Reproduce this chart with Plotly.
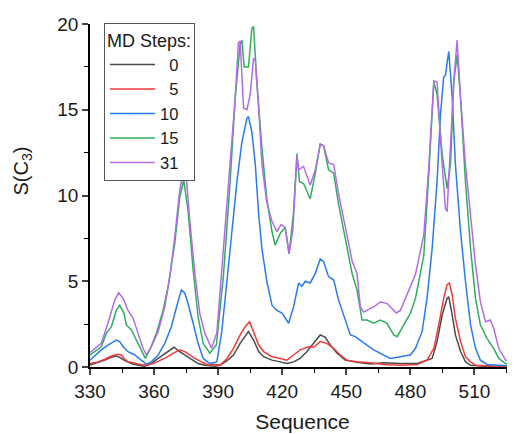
import plotly.graph_objects as go

# ---- data ----
seq_0 = [330, 333.8, 336.9, 340, 342.3, 343.9, 346.3, 349.4, 352.5, 355.6, 358.7, 361.9, 365, 368.1, 369.4,
         371.3, 374.4, 377.5, 380.6, 383.8, 388.4, 391, 394, 397.2, 400.3, 402.7, 404.2, 406.6, 409, 411.3,
         415.2, 419.1, 422.2, 425.3, 428.4, 431.6, 434.7, 437.8, 440.2, 442.5, 445.7, 449.5, 455, 461.3,
         467.5, 475.3, 483.2, 487.8, 490.2, 492.5, 494.9, 497.2, 498, 499.6, 501.1, 503.5, 505.8, 508.2,
         515, 529]
val_0 = [0.12, 0.25, 0.4, 0.56, 0.64, 0.56, 0.37, 0.2, 0.1, 0.05, 0.2, 0.5, 0.76, 1.03, 1.15,
         0.95, 0.7, 0.45, 0.2, 0.1, 0.05, 0.12, 0.35, 0.7, 1.38, 1.8, 2.06, 1.57, 0.9, 0.6,
         0.4, 0.3, 0.2, 0.3, 0.5, 0.9, 1.38, 1.87, 1.73, 1.28, 0.8, 0.4, 0.27, 0.17,
         0.25, 0.2, 0.2, 0.4, 0.5, 1.48, 3.03, 4.0, 4.1, 3.03, 1.87, 0.9, 0.31, 0.1,
         0.05, 0.03]

seq_5 = [330, 333.8, 336.9, 340, 343.1, 344.7, 346.3, 347.8, 350.2, 353.3, 356.4, 359.5, 362.6, 365.8,
         368.9, 372, 374.4, 376.7, 379.1, 382.2, 385.3, 388, 391, 394.1, 397.2, 400.3, 402.7, 404.7,
         406.6, 409, 411.3, 415.2, 419.1, 422.2, 425.3, 428.4, 432.3, 434.7, 437.8, 440.9, 444, 447.2,
         450.3, 455, 461.3, 467.5, 475.3, 483.2, 487.8, 491, 493.3, 495.6, 497.2, 498.3, 499.6, 501.1,
         503.5, 505.8, 508.2, 510.5, 520, 529]
val_5 = [0.2, 0.3, 0.45, 0.64, 0.74, 0.7, 0.45, 0.31, 0.25, 0.15, 0.1, 0.2, 0.37, 0.56,
         0.8, 1.0, 0.9, 0.7, 0.5, 0.3, 0.12, 0.15, 0.12, 0.5, 1.09, 1.87, 2.35, 2.64,
         2.06, 1.28, 0.9, 0.6, 0.5, 0.4, 0.7, 1.0, 1.18, 1.15, 1.48, 1.38, 1.09, 0.7,
         0.4, 0.3, 0.25, 0.15, 0.1, 0.15, 0.4, 1.09, 2.45, 4.0, 4.8, 4.9, 4.2, 2.84,
         1.48, 0.6, 0.3, 0.1, 0.05, 0.03]

seq_10 = [330, 335.3, 338.4, 342.3, 343.9, 345.5, 347.8, 351, 354, 356.4, 358.7, 361.9, 365, 368.1,
          370.5, 372.8, 374.4, 375.9, 378.3, 380.6, 383, 386.1, 389.4, 391.7, 394.1, 396.4, 398.8,
          401.1, 403.5, 404.2, 405.8, 407.4, 409, 410.5, 412.8, 415.2, 417.5, 419.9, 422.2, 423,
          425.3, 427.7, 429.2, 430.8, 433.1, 435.5, 437.8, 439.4, 441.7, 444.1, 446.4, 449.5, 451.9,
          454.2, 456.6, 459.7, 462.8, 466, 470.6, 475.3, 480, 482.4, 485.5, 487.8, 490.2, 492.5,
          494.1, 495.6, 496.4, 498, 499.6, 501.1, 503.5, 505.8, 508.2, 510.5, 512.8, 515.9, 520.5, 529]
val_10 = [0.4, 1.0, 1.28, 1.57, 1.48, 1.18, 0.89, 0.7, 0.4, 0.17, 0.3, 0.7, 1.38, 2.35,
          3.5, 4.5, 4.3, 3.7, 2.55, 1.38, 0.5, 0.2, 0.3, 2.06, 5.0, 7.9, 10.8,
          13.1, 14.5, 14.6, 13.7, 11.8, 8.86, 6.9, 5.0, 3.6, 3.3, 3.15, 2.64, 2.55,
          3.5, 4.9, 4.7, 5.0, 4.9, 5.46, 6.3, 6.14, 5.27, 5.07, 3.9, 2.74, 1.87,
          1.77, 1.57, 1.28, 1.0, 0.8, 0.5, 0.6, 0.7, 1.09, 2.06, 4.0, 6.9, 10.8,
          14.7, 16.9, 17.0, 18.4, 15.7, 11.8, 7.9, 5.0, 2.45, 1.09, 0.4, 0.15, 0.1, 0.05]

seq_15 = [330, 335.3, 337.6, 340, 342.3, 343.9, 345.9, 347, 349.4, 351.7, 354, 355.9, 358, 361.1, 364.2,
          366.6, 369.7, 372, 373.9, 375.9, 378.3, 380.6, 383, 386.1, 389.2, 392.5, 395.6, 398, 400.3,
          401.1, 402.2, 404.2, 405.8, 406.6, 408.1, 410.5, 412.8, 415.2, 416.7, 419.1, 421.4, 423.2,
          425.3, 426.9, 428.1, 430, 433.1, 435.5, 437.8, 439.4, 441.7, 444.1, 446.4, 449.5, 452.7, 455,
          457.4, 459.7, 462.8, 466, 469.1, 472.2, 473.8, 476.9, 480, 482.4, 486.3, 488.6, 491, 492.5,
          494.9, 497.2, 498.8, 500.3, 501.9, 503.5, 505.8, 508.2, 510.5, 512.8, 515.9, 519, 521.4,
          524.6, 529]
val_15 = [0.7, 1.18, 1.96, 2.35, 3.3, 3.6, 3.13, 2.45, 2.16, 1.57, 0.89, 0.5, 1.0, 1.96, 3.3,
          4.7, 7.2, 9.9, 10.9, 9.15, 5.66, 2.93, 1.38, 0.8, 1.3, 5.36, 10.8, 15.7, 18.8,
          19.07, 17.5, 17.5, 19.75, 19.85, 16.6, 12.75, 9.8, 7.9, 7.1, 7.8, 8.15, 6.6,
          9.0, 12.45, 10.8, 10.7, 9.8, 11.3, 13.0, 12.9, 11.5, 11.3, 9.5, 7.4, 5.46, 4.5,
          2.74, 2.74, 2.55, 2.74, 2.55, 1.87, 1.77, 2.45, 3.13, 4.0, 6.5, 11.2, 16.6, 15.9,
          12.4, 10.4, 11.8, 16.6, 18.2, 15.7, 10.8, 6.9, 4.0, 2.45, 1.67, 1.09, 0.5,
          0.2, 0.15]

seq_31 = [330, 335.3, 338.4, 341.6, 343.4, 345.5, 347.8, 350.2, 352.5, 354.8, 356.4, 358.7, 361.9, 365,
          367.4, 369.7, 372, 373.6, 375.2, 376.7, 379.1, 381.4, 383.8, 386.9, 389.4, 392.5, 395.6, 398,
          399.5, 400.3, 401.9, 403.5, 405, 406.6, 407.4, 409, 410.5, 412.8, 415.2, 417.5, 419.5, 421.4,
          423.2, 425, 426.9, 427.7, 430, 433.1, 435.5, 437.8, 439.4, 441.7, 444.1, 446.4, 449.5, 452.7,
          455, 456.6, 458.1, 462.8, 466, 469.1, 473.4, 475.3, 477.7, 480, 482.4, 486.3, 488.6, 491,
          492.5, 494.9, 496.4, 497.2, 498.8, 500.3, 501.9, 503.5, 505.8, 508.2, 510.5, 512.8, 515.2,
          517.5, 519, 521.4, 524.6, 529.3]
val_31 = [0.85, 1.38, 2.55, 3.9, 4.33, 4.0, 3.3, 2.84, 1.96, 1.09, 0.7, 1.18, 2.06, 3.5,
          5.27, 7.6, 10.3, 11.3, 10.9, 8.57, 5.46, 3.13, 1.96, 1.1, 2.0, 6.9, 11.8, 15.7,
          18.9, 19.0, 15.1, 15.0, 15.9, 18.0, 17.9, 15.1, 11.8, 9.6, 8.5, 7.9, 8.3, 8.15,
          6.6, 8.0, 12.3, 11.5, 11.7, 10.6, 11.5, 13.0, 12.9, 11.9, 11.8, 10.1, 8.2, 6.2,
          5.46, 3.5, 3.2, 3.5, 3.8, 3.7, 3.15, 3.3, 4.0, 4.7, 5.4, 7.7, 11.6, 16.7,
          16.6, 11.8, 9.25, 9.06, 12.75, 16.6, 19.07, 15.7, 11.8, 8.86, 5.95, 3.8, 2.64,
          2.74, 2.26, 1.09, 0.4, 0.2]

series_names = ["\u20070", "\u20075", "10", "15", "31"]
series_x = [seq_0, seq_5, seq_10, seq_15, seq_31]
series_y = [val_0, val_5, val_10, val_15, val_31]
series_colors = ["#4a4a4a", "#f23a3a", "#2b7bee", "#30ad5e", "#b26ce8"]

x_ticks = [330, 360, 390, 420, 450, 480, 510]
y_ticks = [0, 5, 10, 15, 20]

fig = go.Figure()
for name, xs, ys, col in zip(series_names, series_x, series_y, series_colors):
    fig.add_trace(go.Scatter(x=xs, y=ys, mode="lines", name=name,
                             line=dict(color=col, width=1.5)))

# the page body adds an 8px offset; figure sized so the plot lands where the reference has it
font_family = "Arial, 'Liberation Sans', sans-serif"
fig.update_layout(
    width=507, height=426,
    margin=dict(l=82, r=0, t=16, b=67, autoexpand=False),
    paper_bgcolor="white", plot_bgcolor="white",
    font=dict(family=font_family, size=19, color="#1a1a1a"),
    showlegend=True,
    legend=dict(
        title=dict(text="MD Steps:", font=dict(size=18)),
        x=0.033, y=1.003, xanchor="left", yanchor="top",
        bordercolor="#555555", borderwidth=1, bgcolor="white",
        font=dict(size=16.5), tracegroupgap=0, itemwidth=45,
    ),
    annotations=[dict(
        text="S(C<sub>3</sub>)", textangle=-90, showarrow=False,
        xref="paper", yref="paper", x=-0.16, y=0.57,
        xanchor="center", yanchor="middle", font=dict(size=20),
    )],
)
fig.update_xaxes(
    range=[330, 529], tickvals=x_ticks, ticks="outside", ticklen=6, tickwidth=1.5,
    showline=True, linecolor="black", linewidth=1.5, showgrid=False, zeroline=False,
    automargin=False,
    minor=dict(dtick=15, tick0=330, ticks="outside", ticklen=4, tickwidth=1.2, tickcolor="black"),
    tickfont=dict(size=19),
    title=dict(text="Sequence", font=dict(size=21), standoff=14),
)
fig.update_yaxes(
    range=[0, 20], tickvals=y_ticks, ticks="outside", ticklen=6, tickwidth=1.5,
    showline=True, linecolor="black", linewidth=1.5, showgrid=False, zeroline=False,
    automargin=False,
    minor=dict(dtick=2.5, tick0=0, ticks="outside", ticklen=4, tickwidth=1.2, tickcolor="black"),
    tickfont=dict(size=19),
)

fig.write_html("out.html")
